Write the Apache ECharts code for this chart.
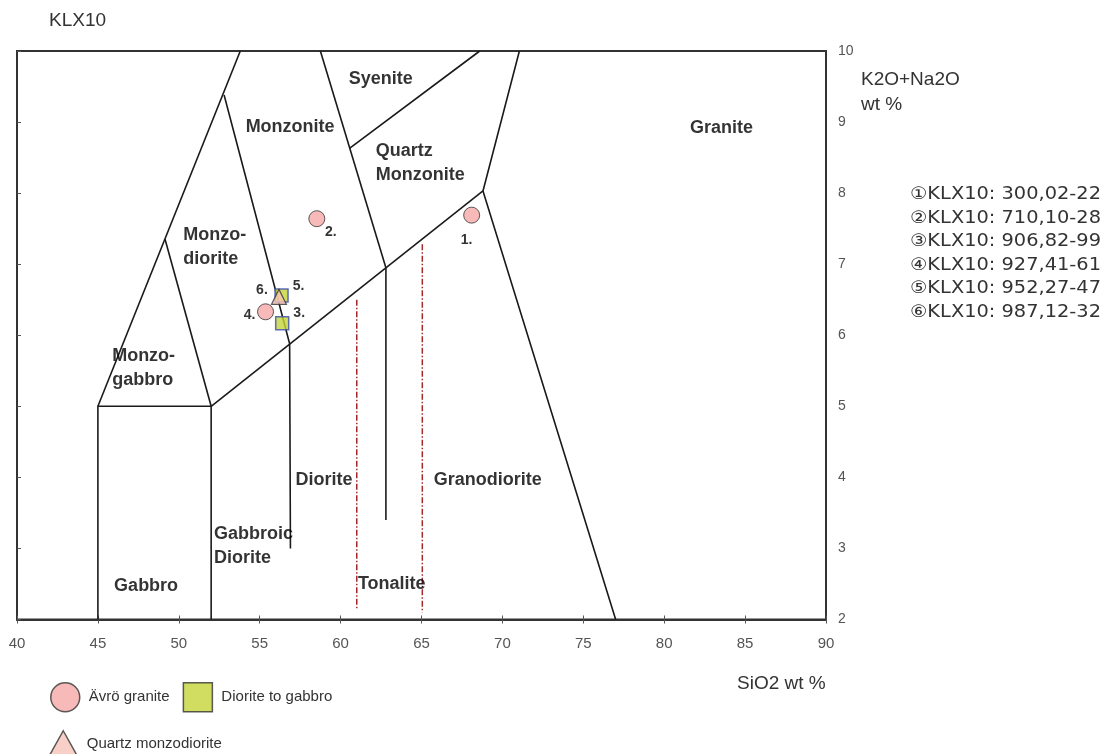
<!DOCTYPE html>
<html>
<head>
<meta charset="utf-8">
<script src="https://cdn.jsdelivr.net/npm/echarts@6/dist/echarts.min.js"></script>
<style>
  html, body { margin: 0; padding: 0; background: #fff; }
  #chart { width: 1109px; height: 754px; }
</style>
</head>
<body>
<div id="chart"></div>
<script>
// Field boundaries of the plutonic TAS diagram (SiO2 wt %, K2O+Na2O wt %)
const gabbroBox = [[45, 2], [45, 5], [52, 5], [52, 2]];
const monzogabbroLeft = [[45, 5], [53.8, 10]];
const monzogabbroRight = [[49.15, 7.35], [52, 5]];
const monzodioriteRight = [[52.8, 9.38], [56.85, 5.88], [56.9, 3.0]];
const lowerBoundary = [[52, 5], [68.8, 8.03]];
const dioriteGranodiorite = [[62.8, 6.95], [62.8, 3.4]];
const monzoniteQuartz = [[58.75, 10], [62.8, 6.95]];
const syeniteBase = [[60.55, 8.63], [68.6, 10]];
const graniteBoundary = [[71.05, 10], [68.8, 8.03], [77, 2]];
const tonaliteLeft = [[61, 6.5], [61, 2.15]];
const tonaliteRight = [[65.05, 7.28], [65.05, 2.1]];

// Field names and their anchor points
const fieldNames = ['Syenite', 'Monzonite', 'Quartz\nMonzonite', 'Granite', 'Monzo-\ndiorite',
  'Monzo-\ngabbro', 'Diorite', 'Granodiorite', 'Gabbroic\nDiorite', 'Gabbro', 'Tonalite'];
const fieldAnchors = [[62.48, 9.61], [56.88, 8.93], [62.17, 8.43], [83.54, 8.92], [50.27, 7.24],
  [45.88, 5.54], [58.98, 3.96], [69.09, 3.96], [52.17, 3.03], [47.98, 2.47], [63.16, 2.5]];
const fieldAlign = ['center', 'center', 'left', 'center', 'left', 'left', 'center', 'center', 'left', 'center', 'center'];

// Samples: [SiO2, K2O+Na2O, sample number]
const avroGranite = [[68.1, 7.69, 1], [58.53, 7.64, 2], [55.36, 6.33, 4]];
const dioriteToGabbro = [[56.39, 6.17, 3], [56.35, 6.56, 5]];
const quartzMonzodiorite = [[56.19, 6.54, 6]];

const sampleIds = ['①KLX10: 300,02-22', '②KLX10: 710,10-28', '③KLX10: 906,82-99',
  '④KLX10: 927,41-61', '⑤KLX10: 952,27-47', '⑥KLX10: 987,12-32'];

// Where each sample number is written relative to its marker
const labelOffsets = { 1: [-5, 25], 2: [14, 13], 3: [17, -10], 4: [-16, 3], 5: [17, -9], 6: [-17, -7] };

const chart = echarts.init(document.getElementById('chart'));

function boundary(data) {
  return {
    type: 'line', data: data, symbol: 'none', silent: true,
    lineStyle: { color: '#1a1a1a', width: 1.6 }, z: 3
  };
}
function dashed(data) {
  return {
    type: 'line', data: data, symbol: 'none', silent: true,
    lineStyle: { color: '#a3292b', width: 1.5, type: [6, 2, 1.5, 2] }, z: 3
  };
}
function samples(name, data, symbol, size, itemStyle) {
  return {
    name: name, type: 'scatter', symbol: symbol, symbolSize: size, z: 6,
    data: data.map(d => ({
      value: [d[0], d[1]],
      label: { offset: labelOffsets[d[2]] }
    })),
    itemStyle: itemStyle,
    label: {
      show: true, position: 'inside',
      formatter: p => data[p.dataIndex][2] + '.',
      fontFamily: 'Liberation Sans', fontWeight: 'bold', fontSize: 14, color: '#000',
      textBorderWidth: 0
    }
  };
}

const fieldSeries = {
  type: 'scatter', symbolSize: 0, silent: true, z: 4,
  data: fieldNames.map((n, i) => ({
    value: fieldAnchors[i],
    label: { formatter: n, align: fieldAlign[i] }
  })),
  label: {
    show: true, position: 'inside', verticalAlign: 'middle',
    fontFamily: 'Liberation Sans', fontWeight: 'bold', fontSize: 18, lineHeight: 24,
    color: '#000', textBorderWidth: 0
  }
};

const legendText = { fontFamily: 'Liberation Sans', fontSize: 15, color: '#333', padding: [0, 0, 0, 4] };

const option = {
  animation: false,
  backgroundColor: '#fff',
  title: {
    text: 'KLX10', left: 44, top: 6,
    textStyle: { fontFamily: 'Liberation Sans', fontWeight: 'normal', fontSize: 19, color: '#333' }
  },
  grid: {
    left: 17, right: 283, top: 51, bottom: 134.5,
    show: true, borderColor: '#333', borderWidth: 2, backgroundColor: 'transparent'
  },
  xAxis: [
    {
      type: 'value', min: 40, max: 90, interval: 5, position: 'bottom',
      axisLine: { show: true, onZero: false, lineStyle: { color: '#333', width: 2 } },
      axisTick: { show: true, length: 4, lineStyle: { color: '#555' } },
      axisLabel: { color: '#555', fontFamily: 'Liberation Sans', fontSize: 15, margin: 17 },
      splitLine: { show: false }
    },
    {
      type: 'value', min: 40, max: 90, interval: 5, position: 'bottom',
      axisLine: { show: false },
      axisTick: { show: true, inside: true, length: 4, lineStyle: { color: '#555' } },
      axisLabel: { show: false }, splitLine: { show: false }
    }
  ],
  yAxis: [
    {
      type: 'value', min: 2, max: 10, interval: 1, position: 'right',
      axisLine: { show: true, onZero: false, lineStyle: { color: '#333', width: 2 } },
      axisTick: { show: false },
      axisLabel: { color: '#555', fontFamily: 'Liberation Sans', fontSize: 14, margin: 12 },
      splitLine: { show: false }
    },
    {
      type: 'value', min: 2, max: 10, interval: 1, position: 'left',
      axisLine: { show: true, onZero: false, lineStyle: { color: '#333', width: 2 } },
      axisTick: { show: true, inside: true, length: 4, lineStyle: { color: '#555' } },
      axisLabel: { show: false }, splitLine: { show: false }
    }
  ],
  legend: [
    {
      left: 50, top: 682, padding: 0, itemWidth: 29, itemHeight: 29, itemGap: 13,
      textStyle: legendText,
      data: [
        { name: 'Ävrö granite', icon: 'circle', itemStyle: { color: '#f6a7a7', borderColor: '#333', borderWidth: 1.5 } },
        { name: 'Diorite to gabbro', icon: 'rect', itemStyle: { color: '#c4d43a', borderColor: '#333', borderWidth: 1.5 } }
      ]
    },
    {
      left: 48, top: 730, padding: 0, itemWidth: 29, itemHeight: 26,
      textStyle: legendText,
      data: [
        { name: 'Quartz monzodiorite', icon: 'triangle', itemStyle: { color: '#f8c4b9', borderColor: '#333', borderWidth: 1.5 } }
      ]
    }
  ],
  graphic: [
    {
      type: 'text', x: 861, y: 67,
      style: { text: 'K2O+Na2O\nwt %', font: '19px "Liberation Sans"', lineHeight: 25, fill: '#333' }
    },
    {
      type: 'text', x: 737, y: 674,
      style: { text: 'SiO2 wt %', font: '19px "Liberation Sans"', fill: '#333' }
    },
    {
      type: 'text', x: 910, y: 183, scaleX: 1.14,
      style: { text: sampleIds.join('\n'), font: '17px "DejaVu Sans"', lineHeight: 23.5, fill: '#333' }
    }
  ],
  series: [
    boundary(gabbroBox), boundary(monzogabbroLeft), boundary(monzogabbroRight),
    boundary(monzodioriteRight), boundary(lowerBoundary), boundary(dioriteGranodiorite),
    boundary(monzoniteQuartz), boundary(syeniteBase), boundary(graniteBoundary),
    dashed(tonaliteLeft), dashed(tonaliteRight),
    fieldSeries,
    samples('Ävrö granite', avroGranite, 'circle', 16,
      { color: '#f6a7a7', borderColor: '#333', borderWidth: 1 }),
    samples('Diorite to gabbro', dioriteToGabbro, 'rect', 13,
      { color: '#c4d43a', borderColor: '#3b4ca6', borderWidth: 1.5 }),
    samples('Quartz monzodiorite', quartzMonzodiorite, 'triangle', 15,
      { color: '#f8c4b9', borderColor: '#333', borderWidth: 1.2 })
  ]
};

chart.setOption(option);
</script>
</body>
</html>
